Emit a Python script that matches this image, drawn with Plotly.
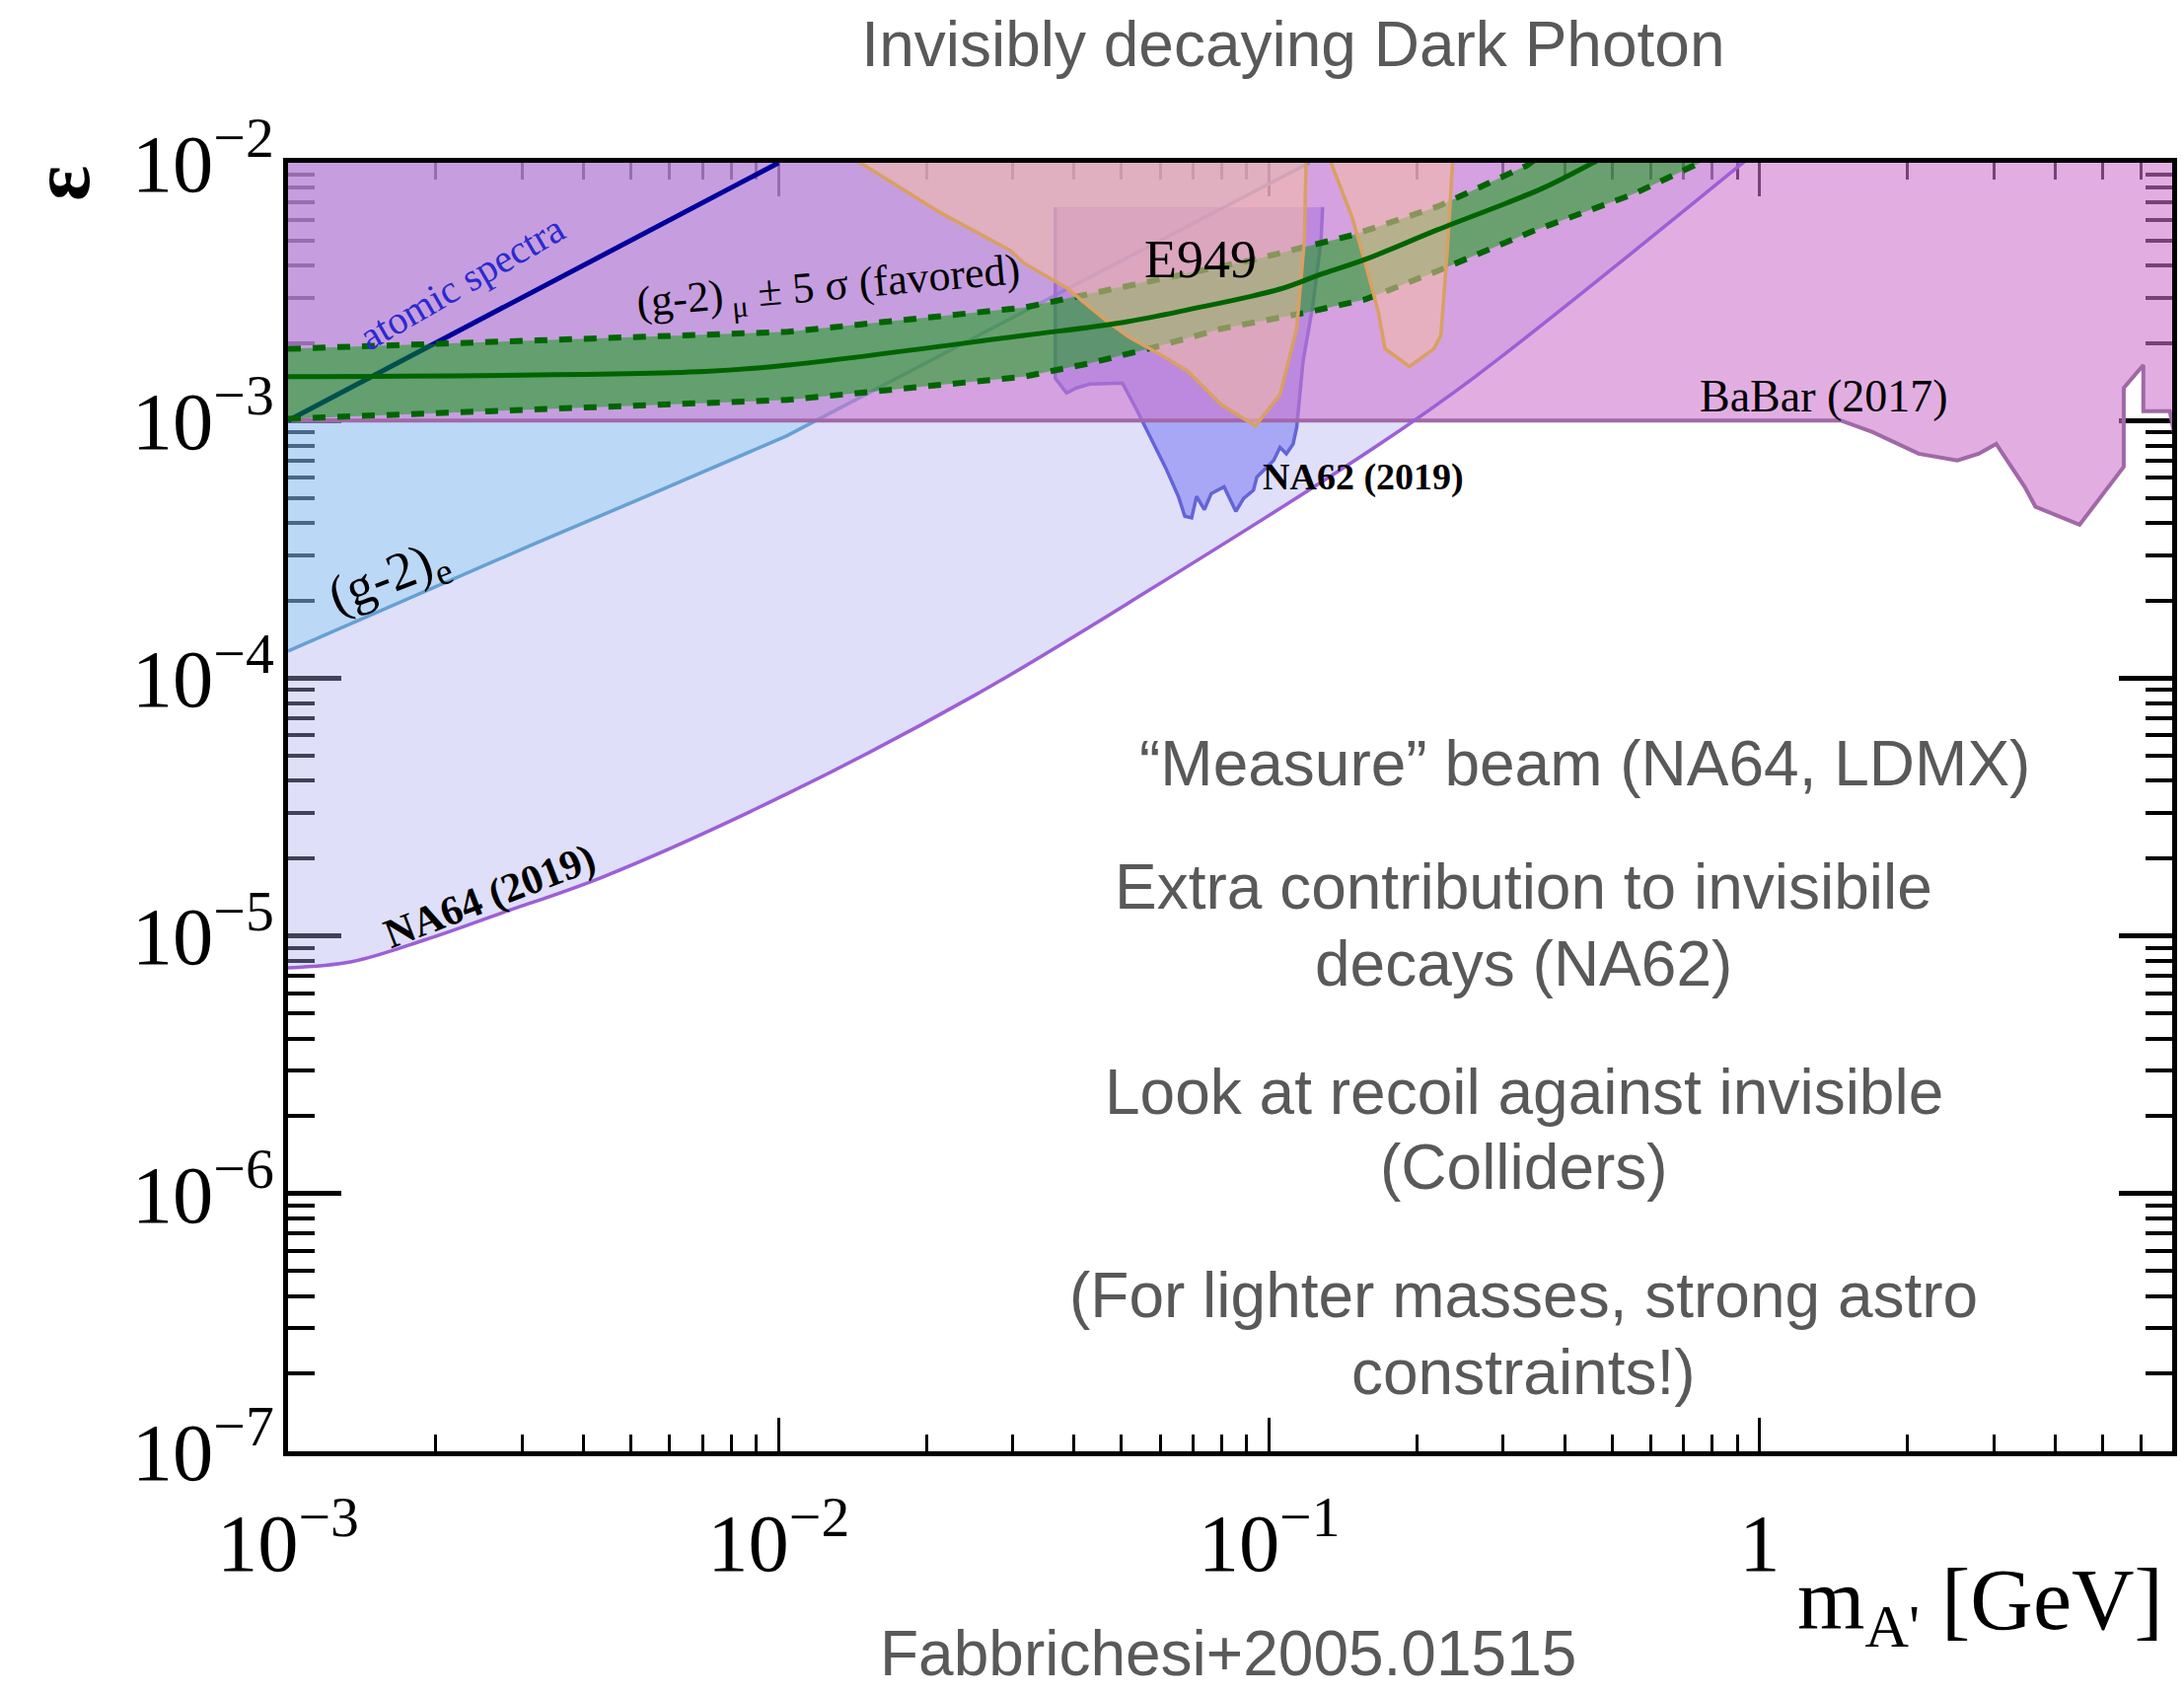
import math
import plotly.graph_objects as go

# ---------------------------------------------------------------------------
# Axis limits: dark-photon mass m_A' [GeV] and kinetic mixing epsilon
# ---------------------------------------------------------------------------
M_RANGE = [1e-3, 6.93]
EPS_RANGE = [1e-7, 1e-2]
EPS_CLIP = 1.2e-2        # closing height for regions that continue above the frame
M_CLIP = 7.2             # closing mass for regions that continue past the frame

# NA64 (2019) missing-energy limit (excluded above the curve)
na64_m = [0.001, 0.001349, 0.001905, 0.002735, 0.004385, 0.0104, 0.02512,
          0.05741, 0.1663, 0.2642, 0.9376]
na64_eps = [7.52e-6, 7.94e-6, 9.66e-6, 1.23e-5, 1.694e-5, 3.556e-5, 8.59e-5,
            2.218e-4, 8.0e-4, 1.489e-3, 1.023e-2]

# Electron (g-2) bound (excluded above the line)
g2e_m = [0.001, 0.003162, 0.00547, 0.01038, 0.03864, 0.1172, 0.1208]
g2e_eps = [1.274e-4, 3.311e-4, 5.152e-4, 8.71e-4, 3.228e-3, 9.70e-3, 1.0e-2]

# Atomic spectra bound
atomic_m = [0.001, 0.01]
atomic_eps = [1.0e-3, 1.0e-2]

# BaBar (2017) mono-photon search: lower edge of excluded region
babar_m = [0.001, 1.462, 1.698, 2.109, 2.529, 2.793, 3.034, 3.467, 3.648,
           4.487, 5.521, 5.521, 6.053, 6.053, 6.855, 6.998]
babar_eps = [1.0e-3, 1.0e-3, 9.02e-4, 7.43e-4, 7.00e-4, 7.43e-4, 8.11e-4,
             5.53e-4, 4.63e-4, 3.94e-4, 6.61e-4, 1.337e-3, 1.641e-3,
             1.086e-3, 1.086e-3, 8.91e-4]

# NA62 (2019) pi0 -> gamma A' limit (closed contour)
na62_m = [0.03664, 0.03664, 0.03864, 0.04046, 0.04305, 0.05023, 0.05346,
          0.05598, 0.05861, 0.06138, 0.06531, 0.06730, 0.06950, 0.07112,
          0.07379, 0.07621, 0.08091, 0.08551, 0.08872, 0.09290, 0.09441,
          0.1021, 0.1052, 0.1084, 0.1119, 0.1138, 0.1172, 0.1227, 0.1276,
          0.1285]
na62_eps = [6.73e-3, 1.459e-3, 1.279e-3, 1.337e-3, 1.384e-3, 1.396e-3,
            1.119e-3, 9.40e-4, 7.87e-4, 6.61e-4, 5.07e-4, 4.25e-4, 4.19e-4,
            5.07e-4, 4.51e-4, 5.21e-4, 5.53e-4, 4.44e-4, 4.99e-4, 5.37e-4,
            6.04e-4, 7.00e-4, 7.87e-4, 7.43e-4, 8.11e-4, 9.40e-4, 1.690e-3,
            2.786e-3, 5.01e-3, 6.73e-3]

# E949 K+ -> pi+ A' limits (two excluded lobes, open towards large epsilon)
e949a_m = [0.01259, 0.02138, 0.02972, 0.03162, 0.03864, 0.04656, 0.05176,
           0.06039, 0.06839, 0.07980, 0.09376, 0.1052, 0.1138, 0.1180, 0.1191]
e949a_eps = [EPS_CLIP, 6.40e-3, 4.56e-3, 4.08e-3, 3.27e-3, 2.44e-3, 2.11e-3,
             1.79e-3, 1.55e-3, 1.153e-3, 9.53e-4, 1.259e-3, 2.27e-3, 5.01e-3,
             EPS_CLIP]
e949b_m = [0.1288, 0.1476, 0.1570, 0.1671, 0.1722, 0.1932, 0.2168, 0.2239,
           0.2307, 0.2379]
e949b_eps = [EPS_CLIP, 6.15e-3, 4.08e-3, 2.62e-3, 1.90e-3, 1.62e-3, 1.90e-3,
             2.14e-3, 4.56e-3, EPS_CLIP]

# Muon (g-2) favoured band: central value and +-5 sigma edges
g2mu_m = [0.001, 0.007079, 0.01047, 0.03162, 0.05012, 0.06839, 0.1052,
          0.1265, 0.1570, 0.2203, 0.3597, 0.4571, 0.5012]
g2mu_eps = [1.479e-3, 1.549e-3, 1.641e-3, 2.138e-3, 2.399e-3, 2.692e-3,
            3.236e-3, 3.673e-3, 4.217e-3, 5.495e-3, 7.943e-3, 1.0e-2, 1.096e-2]
g2mu_hi_m = [0.001, 0.01045, 0.03162, 0.05861, 0.09290, 0.1227, 0.1476,
             0.2203, 0.3350, 0.3467]
g2mu_hi_eps = [1.897e-3, 2.208e-3, 2.742e-3, 3.524e-3, 4.207e-3, 4.797e-3,
               5.236e-3, 6.761e-3, 9.750e-3, 1.023e-2]
g2mu_lo_m = [0.001, 0.01045, 0.03162, 0.04305, 0.05861, 0.07980, 0.1191,
             0.1570, 0.2203, 0.3428, 0.5534, 0.7568, 0.7943]
g2mu_lo_eps = [1.016e-3, 1.202e-3, 1.479e-3, 1.667e-3, 1.928e-3, 2.270e-3,
               2.624e-3, 2.951e-3, 3.802e-3, 5.408e-3, 7.568e-3, 1.0e-2,
               1.047e-2]

SERIF = "Liberation Serif, Times New Roman, serif"
SANS = "Liberation Sans, Arial, Helvetica, sans-serif"
GREY = "#595959"


def region(xs, ys, fill, line_color=None, line_width=0):
    return go.Scatter(
        x=xs, y=ys, mode="lines", fill="toself", fillcolor=fill,
        line=dict(color=line_color or "rgba(0,0,0,0)", width=line_width),
        hoverinfo="skip", showlegend=False,
    )


def curve(xs, ys, color, width, dash=None, shape="linear"):
    return go.Scatter(
        x=xs, y=ys, mode="lines",
        line=dict(color=color, width=width, dash=dash, shape=shape),
        hoverinfo="skip", showlegend=False,
    )


fig = go.Figure()

# NA64 excluded region (above the curve)
fig.add_trace(region(na64_m + [M_RANGE[0]], na64_eps + [EPS_RANGE[1]],
                     "rgba(170,170,240,0.38)"))
# (g-2)_e excluded region
fig.add_trace(region(g2e_m + [M_RANGE[0]], g2e_eps + [EPS_RANGE[1]],
                     "rgba(100,200,245,0.285)"))
fig.add_trace(curve(g2e_m, g2e_eps, "#66a0d2", 3.5))
# NA62
fig.add_trace(region(na62_m, na62_eps, "rgba(100,100,240,0.46)",
                     "#6464d8", 3.5))
# BaBar (2017)
fig.add_trace(region(babar_m + [M_CLIP, M_CLIP, M_RANGE[0]],
                     babar_eps + [babar_eps[-1], EPS_CLIP, EPS_CLIP],
                     "rgba(205,115,205,0.58)"))
fig.add_trace(curve(babar_m, babar_eps, "#a168a8", 4))
# NA64 curve and atomic-spectra bound
fig.add_trace(curve(na64_m, na64_eps, "#9d5fd6", 3.5, shape="spline"))
fig.add_trace(curve(atomic_m, atomic_eps, "#00009a", 5))
# Muon (g-2) favoured band
fig.add_trace(region(g2mu_hi_m + g2mu_lo_m[::-1],
                     g2mu_hi_eps + g2mu_lo_eps[::-1],
                     "rgba(0,160,0,0.5)"))
fig.add_trace(curve(g2mu_hi_m, g2mu_hi_eps, "#006400", 6, dash="13px,12px"))
fig.add_trace(curve(g2mu_lo_m, g2mu_lo_eps, "#006400", 6, dash="13px,12px"))
# E949 lobes
fig.add_trace(region(e949a_m, e949a_eps, "rgba(245,190,165,0.55)",
                     "#d9a062", 3.5))
fig.add_trace(region(e949b_m, e949b_eps, "rgba(245,190,165,0.55)",
                     "#d9a062", 3.5))
# Central (g-2)_mu value
fig.add_trace(curve(g2mu_m, g2mu_eps, "#006400", 5, shape="spline"))


def label(text, m, eps, size, angle=0, color="black", bold=False):
    if bold:
        text = "<b>" + text + "</b>"
    fig.add_annotation(x=math.log10(m), y=math.log10(eps), xref="x", yref="y",
                       text=text, showarrow=False, textangle=angle,
                       xanchor="center", yanchor="middle",
                       font=dict(family=SERIF, size=size, color=color))


label("atomic spectra", 0.002254, 3.44e-3, 40, -30, color="#2a2ad0")
label("(g-2)<sub> μ</sub> ± 5 σ (favored)", 0.01266, 3.26e-3, 44, -5)
label("(g-2)<sub>e</sub>", 0.00161, 2.44e-4, 54, -21)
label("NA64 (2019)", 0.002576, 1.419e-5, 42, -21, bold=True)
label("NA62 (2019)", 0.1552, 6.01e-4, 38, bold=True)
label("E949", 0.07244, 4.22e-3, 54)
label("BaBar (2017)", 1.352, 1.242e-3, 46)


def note(text, px, py, size=64, color=GREY, family=SANS, angle=0):
    fig.add_annotation(x=px, y=py, xref="paper", yref="paper", text=text,
                       showarrow=False, xanchor="center", yanchor="middle",
                       textangle=angle,
                       font=dict(family=family, size=size, color=color))


# Commentary text on the right of the panel
notes = [
    ("\u201cMeasure\u201d beam (NA64, LDMX)", 0.6883, 0.5337),
    ("Extra contribution to invisibile", 0.6559, 0.4380),
    ("decays (NA62)", 0.6559, 0.3783),
    ("Look at recoil against invisible", 0.6559, 0.2787),
    ("(Colliders)", 0.6559, 0.2205),
    ("(For lighter masses, strong astro", 0.6559, 0.1210),
    ("constraints!)", 0.6559, 0.0613),
]
for text, px, py in notes:
    note(text, px, py)

note("Fabbrichesi+2005.01515", 0.4987, -0.1570)

# Axis titles
note("<b>ε</b>", -0.1211, 0.9839, size=84, color="black", family=SERIF,
     angle=-90)
note("m<sub>A'</sub> [GeV]", 0.8982, -0.1202, size=88, color="black",
     family=SERIF)

axis_common = dict(
    type="log", showgrid=False, zeroline=False, showline=True,
    linecolor="black", linewidth=5, mirror="allticks", ticks="inside",
    tickcolor="black", layer="below traces", exponentformat="power",
    dtick=1, tickfont=dict(family=SERIF, size=66, color="black"),
)

fig.update_layout(
    width=2214, height=1717,
    margin=dict(l=292, r=7, t=165, b=246),
    paper_bgcolor="white", plot_bgcolor="white",
    title=dict(text="Invisibly decaying Dark Photon", x=0.5921, y=0.9738,
               xanchor="center", yanchor="middle",
               font=dict(family=SANS, size=64, color=GREY)),
    xaxis=dict(**axis_common,
               range=[math.log10(M_RANGE[0]), math.log10(M_RANGE[1])],
               ticklen=34, tickwidth=3, ticklabelstandoff=20,
               minor=dict(ticks="inside", ticklen=17, tickwidth=3,
                          tickcolor="black", dtick="D1")),
    yaxis=dict(**axis_common,
               range=[math.log10(EPS_RANGE[0]), math.log10(EPS_RANGE[1])],
               ticklen=54, tickwidth=5, ticklabelstandoff=-4,
               minor=dict(ticks="inside", ticklen=27, tickwidth=4,
                          tickcolor="black", dtick="D1")),
)

fig.write_html("out.html")
